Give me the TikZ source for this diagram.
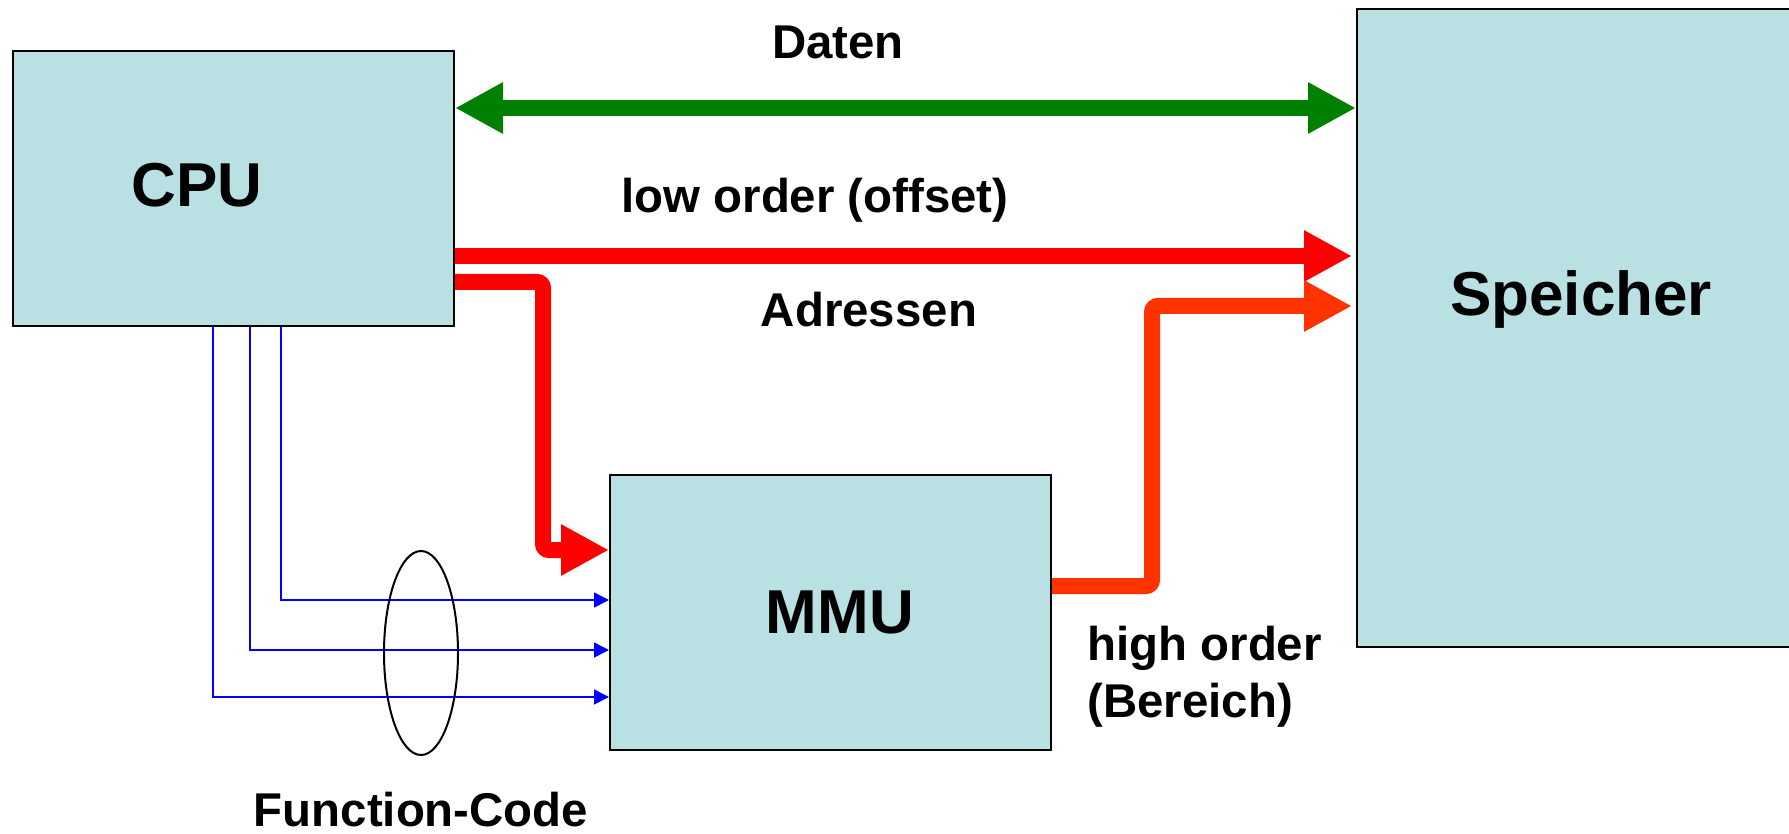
\documentclass[tikz,border=0pt]{standalone}
\usepackage{fontspec}
\setmainfont{Liberation Sans}
\usetikzlibrary{arrows.meta,calc,shapes.geometric}
\definecolor{boxfill}{RGB}{185,224,227}
\definecolor{datcol}{RGB}{0,128,0}
\definecolor{adrcol}{RGB}{255,0,0}
\definecolor{hicol}{RGB}{255,51,0}
\definecolor{fccol}{RGB}{0,0,255}

\begin{document}
\begin{tikzpicture}[
  x=0.5pt, y=-0.5pt,
  %% unit block — pale cyan fill
  unit/.style={
    draw=black, fill=boxfill, line width=1pt,
    inner sep=0pt
  },
  %% big name inside a block
  big/.style={
    font=\fontsize{31}{36}\selectfont\bfseries,
    anchor=base, inner sep=0pt
  },
  %% bus label
  lbl/.style={
    font=\fontsize{23.7}{28.5}\selectfont\bfseries,
    anchor=base, inner sep=0pt
  },
  %% thick bus arrows
  bus/.style={line width=8pt, -{Triangle[length=24pt,width=24pt]}},
  %% thin function-code lines
  fc/.style={fccol, line width=0.8pt, -{Triangle[length=7.5pt,width=7.5pt]}},
]
\useasboundingbox (0,0) rectangle (1789,834);

%%── Blocks ───────────────────────────────────────────────────────────────────
\node[unit, minimum width=220.75pt, minimum height=137.5pt] (cpu)
  at (233.25,188.5) {};
\node[unit, minimum width=220.5pt, minimum height=137.5pt] (mmu)
  at (830.5,612.5) {};
\node[unit, minimum width=217pt, minimum height=319pt] (spe)
  at (1574,328) {};

\node[big] (cputxt) at (197,207) {CPU};
\node[big] (mmutxt) at (840,633) {MMU};
\node[big] (spetxt) at (1581,315) {Speicher};

%%── Bus labels ───────────────────────────────────────────────────────────────
\node[lbl] (daten) at (838,59) {Daten};
\node[lbl] (low) at (815,213) {low order (offset)};
\node[lbl] (adr) at (869,327) {Adressen};
%% base of a two-line node sits on its last line
\node[lbl, anchor=base west, align=left] (high) at (1087,717)
  {high order\\(Bereich)};
\node[lbl] (fcode) at (421,826) {Function-Code};

%%── Data bus (both ways) ─────────────────────────────────────────────────────
\draw[bus, datcol, {Triangle[length=24pt,width=24pt]}-{Triangle[length=24pt,width=24pt]}]
  (cpu.east |- 0,108) -- (spe.west |- 0,108);

%%── Address bus ──────────────────────────────────────────────────────────────
%% low order goes straight to memory
\draw[bus, adrcol, shorten >=2pt] (cpu.east |- 0,256) -- (spe.west |- 0,256);
%% upper bits go through the MMU
\draw[bus, adrcol, rounded corners=3pt]
  (cpu.east |- 0,282) -- ++(88,0) |- (mmu.west |- 0,550);
\draw[bus, hicol, rounded corners=3pt, shorten >=2pt]
  (mmu.east |- 0,586) -- ++(100,0) |- (spe.west |- 0,306);

%%── Function code lines ──────────────────────────────────────────────────────
\foreach \dx/\yy in {201.5/697, 238.5/650, 269.5/600}
  \draw[fc] ($(cpu.south west)+(\dx,0)$) |- (mmu.west |- 0,\yy);

\node[draw, line width=1pt, ellipse, inner sep=0pt,
      minimum width=37pt, minimum height=102pt] (bundle) at (421,653) {};

\end{tikzpicture}
\end{document}
